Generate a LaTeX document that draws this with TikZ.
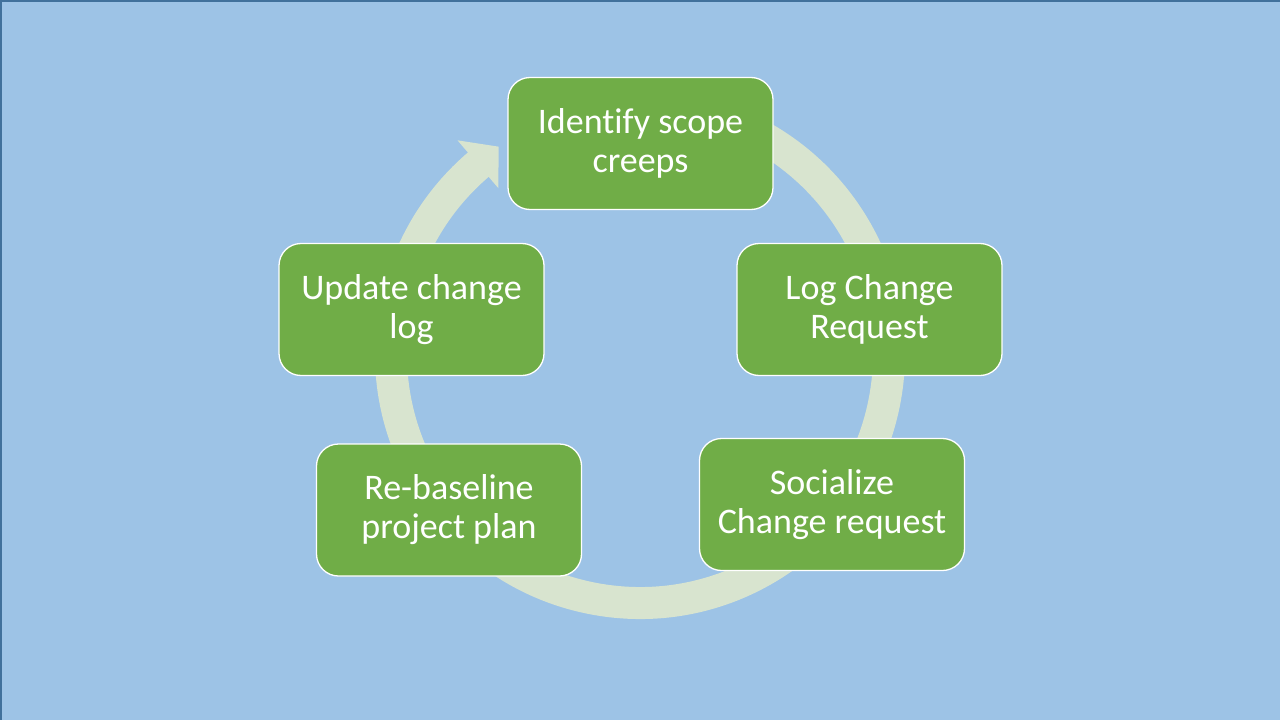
\documentclass[tikz,border=0pt]{standalone}
\usepackage{fontspec}
\setmainfont{Carlito}[Ligatures=NoCommon]
\usetikzlibrary{calc}
\definecolor{bgblue}{RGB}{157,195,230}
\definecolor{boxgreen}{RGB}{112,173,71}
\definecolor{ringgreen}{RGB}{216,228,207}
\definecolor{edgeblue}{RGB}{65,113,156}
\tikzset{
  stepbox/.style={draw=white, line width=1.3pt, fill=boxgreen, rounded corners=22pt,
    minimum width=265pt, minimum height=132pt, inner sep=0pt, text=white, align=center,
    font=\fontsize{36}{39}\selectfont},
  ringline/.style={draw=ringgreen, line width=32pt},
  ringfill/.style={fill=ringgreen}
}
\begin{document}
\begin{tikzpicture}[x=1pt,y=-1pt]
\useasboundingbox (0,0) rectangle (1280,720);
\fill[bgblue] (0,0) rectangle (1280,720);
\draw[edgeblue, line width=1.5pt] (0.75,720) -- (0.75,0.75) -- (1280,0.75);
\coordinate (c) at (640,354);
% ring with arrow
\draw[ringline] (c) ++(-80:249) arc[start angle=-80, end angle=230, radius=249];
\fill[ringfill] ($(c)+(229.5:281)$) coordinate (b1) -- ($(c)+(235.7:251)$) coordinate (tip) -- ($(c)+(229.5:218)$) coordinate (b2) -- cycle;
% boxes
\node[stepbox] (n1) at (640.5,143.5) {Identify scope\\creeps};
\node[stepbox] (n2) at (869.5,309.5) {Log Change\\Request};
\node[stepbox] (n3) at (832,504.5) {Socialize\\Change request};
\node[stepbox] (n4) at (449,510) {Re-baseline\\project plan};
\node[stepbox] (n5) at (411.5,309.5) {Update change\\log};
\end{tikzpicture}
\end{document}
